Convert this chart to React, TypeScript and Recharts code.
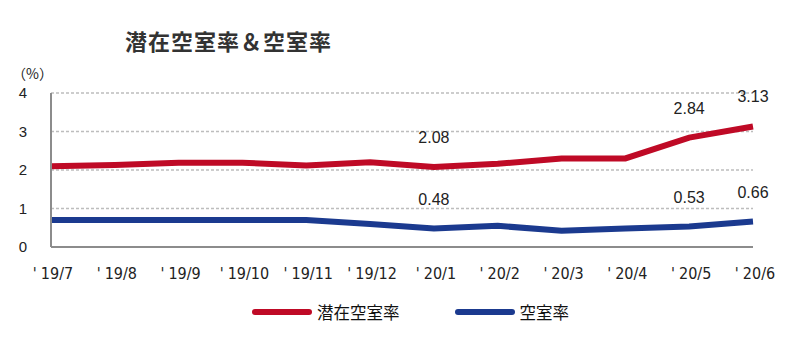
import { LineChart, Line, XAxis, YAxis, CartesianGrid, LabelList } from 'recharts';

const months = ["'19/7", "'19/8", "'19/9", "'19/10", "'19/11", "'19/12", "'20/1", "'20/2", "'20/3", "'20/4", "'20/5", "'20/6"];
const latentVacancy = [2.1, 2.13, 2.19, 2.19, 2.12, 2.2, 2.08, 2.16, 2.3, 2.3, 2.84, 3.13];
const vacancy = [0.7, 0.7, 0.7, 0.7, 0.7, 0.6, 0.48, 0.55, 0.42, 0.48, 0.53, 0.66];
const labeledMonths = ["'20/1", "'20/5", "'20/6"];
const yTicks = [0, 1, 2, 3, 4];

const RED = '#bf0a26';
const BLUE = '#1b3a8f';
const FONT = '"Liberation Sans", Arial, sans-serif';
const JP_FONT = '"Noto Sans CJK JP", sans-serif';

const data = months.map((m, i) => ({ month: m, latent: latentVacancy[i], vacancy: vacancy[i] }));

// only a few points get a value label
function PointLabel(props: any) {
  const { x, y, value, index } = props;
  if (!labeledMonths.includes(months[index])) return null;
  return (
    <text x={x} y={y - 24} textAnchor="middle" fontSize={16} fill="#222" fontFamily={FONT}>
      {value.toFixed(2)}
    </text>
  );
}

// month tick: apostrophe set a bit apart like the original
function MonthTick(props: any) {
  const { x, y, payload } = props;
  const s: string = payload.value;
  return (
    <text
      x={x + 2}
      y={y}
      dy="0.71em"
      textAnchor="middle"
      fontSize={16}
      fill="#222"
      fontFamily='"DejaVu Sans Condensed", "DejaVu Sans", sans-serif'
    >
      <tspan>{s.slice(0, 1)}</tspan>
      <tspan dx={4}>{s.slice(1)}</tspan>
    </text>
  );
}

function LegendItem({ color, label }: { color: string; label: string }) {
  return (
    <div style={{ display: 'flex', alignItems: 'center', gap: 5 }}>
      <div style={{ width: 60, height: 6, borderRadius: 3, background: color }} />
      <span style={{ fontSize: 16.5, color: '#111', fontFamily: JP_FONT }}>{label}</span>
    </div>
  );
}

export default function App() {
  return (
    <div style={{ position: 'absolute', left: 0, top: 0, width: 800, height: 352, background: '#fff' }}>
      <div
        style={{
          position: 'absolute',
          left: 125,
          top: 27,
          fontSize: 22,
          letterSpacing: 1,
          fontWeight: 'bold',
          color: '#333',
          fontFamily: JP_FONT,
          lineHeight: '26px',
        }}
      >
        潜在空室率＆空室率
      </div>
      <div style={{ position: 'absolute', left: 12, top: 63, fontSize: 14, color: '#222', fontFamily: JP_FONT }}>
        （%）
      </div>
      <LineChart width={800} height={352} data={data} margin={{ top: 93, right: 47, bottom: 75, left: 0 }}>
        <CartesianGrid vertical={false} stroke="#bdbdbd" strokeWidth={1.5} strokeDasharray="3 2" />
        <XAxis
          dataKey="month"
          interval={0}
          tickLine={false}
          axisLine={{ stroke: '#8c8c8c', strokeWidth: 2 }}
          tick={<MonthTick />}
          tickMargin={15}
          height={30}
        />
        <YAxis
          width={51}
          domain={[0, 4]}
          ticks={yTicks}
          tickLine={false}
          axisLine={{ stroke: '#8c8c8c', strokeWidth: 2 }}
          tick={{ fontSize: 15, fill: '#222', fontFamily: FONT }}
          tickMargin={18}
        />
        <Line type="linear" dataKey="latent" stroke={RED} strokeWidth={6} dot={false} isAnimationActive={false}>
          <LabelList dataKey="latent" content={PointLabel} />
        </Line>
        <Line type="linear" dataKey="vacancy" stroke={BLUE} strokeWidth={6} dot={false} isAnimationActive={false}>
          <LabelList dataKey="vacancy" content={PointLabel} />
        </Line>
      </LineChart>
      <div style={{ position: 'absolute', left: 252, top: 300, display: 'flex', gap: 55 }}>
        <LegendItem color={RED} label="潜在空室率" />
        <LegendItem color={BLUE} label="空室率" />
      </div>
    </div>
  );
}
